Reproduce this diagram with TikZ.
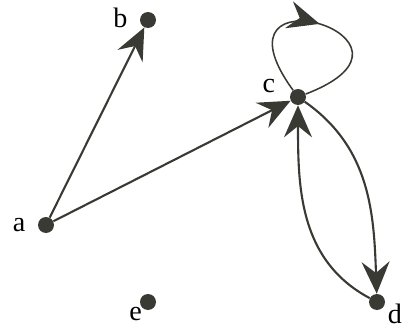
\documentclass[tikz,border=0pt]{standalone}
\usepackage{fontspec}
\setmainfont{Liberation Serif}
\usetikzlibrary{arrows.meta, positioning, decorations.markings}
\definecolor{ink}{HTML}{3A3A35}

\begin{document}
\begin{tikzpicture}[
  vtx/.style={circle, fill=ink, inner sep=0pt, minimum size=4mm},
  lbl/.style={font=\fontsize{20}{24}\selectfont, inner sep=0pt},
  arc/.style={-{Stealth[length=8mm, width=7mm, inset=2.8mm]}, ink, line width=1.5pt},
  selfloop/.style={ink, line width=1.1pt, postaction={decorate},
    decoration={markings, mark=at position 0.5 with {\arrow{Stealth[length=8mm, width=7mm, inset=2.8mm]}}}}
]
\useasboundingbox (0,0) rectangle (10.125,-8.225);

\node[vtx] (a) at (1.15,-5.625) {};
\node[vtx] (b) at (3.7,-0.5) {};
\node[vtx] (c) at (7.45,-2.425) {};
\node[vtx] (d) at (9.425,-7.55) {};
\node[vtx] (e) at (3.7,-7.55) {};

\node[lbl, left=0.3cm of a] (la) {a};
\node[lbl, left=0.3cm of b, yshift=0.05cm] (lb) {b};
\node[lbl, above left=-0.05cm and 0.42cm of c] (lc) {c};
\node[lbl, below left=-0.02cm and 0cm of e] (le) {e};
\node[lbl, below right=-0.1cm and 0.12cm of d] (ld) {d};

\draw[arc] (a) -- (b);
\draw[arc] (a) -- (c);
\draw[arc] (c) to[out=-35, in=92] (d);
\draw[arc] (d) to[out=152, in=-90] (c);
\draw[selfloop] (c) to[out=126, in=21, distance=3.9cm] (c);
\end{tikzpicture}
\end{document}
